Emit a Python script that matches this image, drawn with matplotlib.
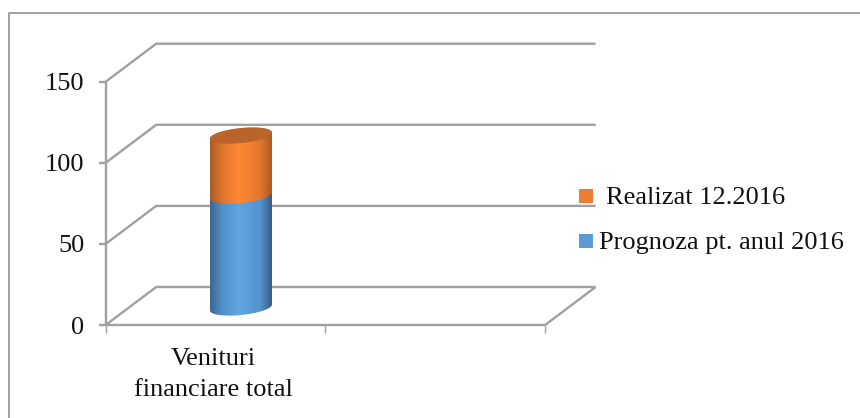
import numpy as np
import matplotlib
matplotlib.use('Agg')
import matplotlib.pyplot as plt
import matplotlib.patches as patches
import matplotlib.transforms as mtransforms
from matplotlib.colors import LinearSegmentedColormap
from matplotlib.lines import Line2D
from matplotlib.path import Path

plt.rcParams['font.family'] = ['Liberation Serif', 'DejaVu Serif']

# chart values
categories = ['Venituri\nfinanciare total', '']
prognoza = [69]
realizat = [37]
series_names = ['Prognoza pt. anul 2016', 'Realizat 12.2016']
y_ticks = [0, 50, 100, 150]

W, H = 860, 418
color_line = '#a0a0a0'
color_text = '#111111'
color_blue = '#5b9bd5'
color_orange = '#ed7d31'

# pixel scale of the plot box
x0_px, y0_px = 105.7, 325.0
slot_px = 219.7
unit_px = 243.3 / 150
depth_x = 50.5 / slot_px
depth_y = 38.0 / unit_px

fig = plt.figure(figsize=(W / 100, H / 100), dpi=100, facecolor='white')
ax = fig.add_axes([0, 0, 1, 1])
ax.axis('off')
px = mtransforms.Affine2D().scale(1 / W, -1 / H).translate(0, 1) + fig.transFigure


def grey_line(xs, ys, lw=1.7):
    ax.add_line(Line2D(xs, ys, color=color_line, lw=lw, solid_capstyle='butt', zorder=1))


# outer chart border, only left and top show
fig.add_artist(Line2D([9, 9, W], [H, 12.5, 12.5], color='#a0a0a0', lw=1.4, transform=px))

# walls and floor
n_slots = len(categories)
for v in y_ticks:
    grey_line([0, depth_x, n_slots + depth_x], [v, v + depth_y, v + depth_y])
    grey_line([-7 / slot_px, 0], [v, v])
grey_line([0, 0], [0, y_ticks[-1]])
grey_line([0, n_slots], [0, 0])
grey_line([n_slots, n_slots + depth_x], [0, depth_y])
for i in range(n_slots + 1):
    grey_line([i, i], [0, -8 / unit_px], lw=1.0)

# tick and category labels
for v in y_ticks:
    ax.text(-21.5 / slot_px, v, str(v), ha='right', va='center_baseline', fontsize=19, color=color_text)
ax.text(0.49, -49.5 / unit_px, categories[0], ha='center', va='center', fontsize=19,
        color=color_text, linespacing=1.52)

# stacked cylinder
rx = 31 / slot_px
ry = 7.5 / unit_px
tilt = 3 / unit_px
bar_x = 0.51 + 0.46 * depth_x
bar_base = 0.46 * depth_y


def arc(cy, t0, t1):
    t = np.linspace(t0, t1, 60)
    return np.column_stack([bar_x + rx * np.cos(t), cy + tilt * np.cos(t) + ry * np.sin(t)])


def cylinder_part(low, high, stops, z):
    verts = np.vstack([arc(low, np.pi, 2 * np.pi), arc(high, 0, np.pi)])
    cmap = LinearSegmentedColormap.from_list('shade', stops)
    img = ax.imshow(np.linspace(0, 1, 256).reshape(1, -1), cmap=cmap, aspect='auto', zorder=z,
                    extent=(bar_x - rx, bar_x + rx, low - ry - tilt, high + ry + tilt))
    img.set_clip_path(patches.PathPatch(Path(verts), transform=ax.transData))


top_blue = bar_base + prognoza[0]
top_orange = top_blue + realizat[0]
cylinder_part(bar_base, top_blue,
              [(0, '#3a6792'), (0.2, '#5290c8'), (0.47, '#60a6e4'), (0.82, '#5492cc'), (1, '#345d85')], 3)
cylinder_part(top_blue, top_orange,
              [(0, '#a85a22'), (0.2, '#e0752d'), (0.47, '#ff8832'), (0.82, '#e2762e'), (1, '#a85a22')], 4)
ax.add_patch(patches.Polygon(arc(top_orange, 0, 2 * np.pi), closed=True, fc='#b8642a', ec='none', zorder=5))

ax.set_xlim(-x0_px / slot_px, (W - x0_px) / slot_px)
ax.set_ylim((y0_px - H) / unit_px, y0_px / unit_px)

# legend
legend_rows = [(series_names[1], color_orange, 189, 606, 203.5), (series_names[0], color_blue, 234, 599, 249)]
for name, col, sy, tx, ty in legend_rows:
    fig.add_artist(patches.Rectangle((579, sy), 14, 14, fc=col, ec='none', transform=px))
    fig.text(tx, ty, name, transform=px, fontsize=19, color=color_text, ha='left', va='baseline')

fig.savefig('out.png', dpi=100)
